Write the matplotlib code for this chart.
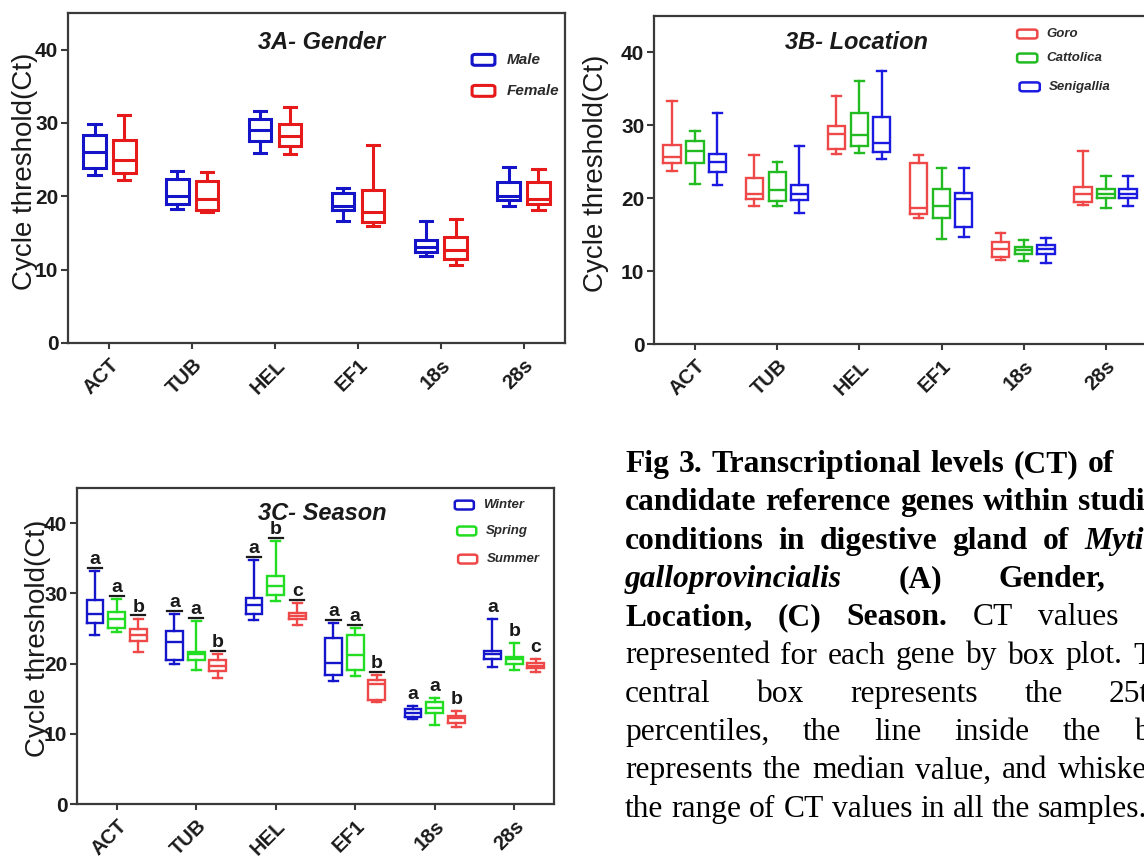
import matplotlib.pyplot as plt
from matplotlib.patches import FancyBboxPatch
from matplotlib.transforms import ScaledTranslation

plt.rcParams['font.family'] = 'Liberation Sans'

genes = ['ACT', 'TUB', 'HEL', 'EF1', '18s', '28s']

# Ct summaries per gene: (min, q1, median, q3, max)
male = [(22.9, 23.9, 26.0, 28.3, 29.9), (18.3, 19.0, 20.0, 22.3, 23.4),
        (25.9, 27.6, 29.0, 30.5, 31.7), (16.6, 18.2, 18.7, 20.5, 21.1),
        (11.8, 12.4, 13.1, 14.1, 16.6), (18.7, 19.5, 20.0, 22.0, 24.0)]
female = [(22.2, 23.2, 25.0, 27.7, 31.1), (17.9, 18.2, 19.7, 22.1, 23.3),
          (25.8, 26.8, 28.2, 29.9, 32.2), (15.9, 16.5, 17.9, 20.9, 27.0),
          (10.7, 11.5, 12.7, 14.4, 16.9), (18.1, 19.0, 19.7, 22.0, 23.7)]

goro = [(23.7, 24.9, 25.7, 27.3, 33.3), (18.9, 19.9, 20.6, 22.8, 25.9),
        (26.0, 26.7, 28.8, 29.9, 34.0), (17.3, 17.9, 18.7, 24.9, 25.9),
        (11.5, 12.0, 13.1, 14.0, 15.2), (19.1, 19.5, 20.6, 21.5, 26.5)]
cattolica = [(22.0, 24.8, 26.5, 27.9, 29.2), (19.0, 19.6, 21.1, 23.6, 25.0),
             (26.2, 27.2, 28.7, 31.7, 36.1), (14.4, 17.3, 18.9, 21.2, 24.2),
             (11.4, 12.3, 12.9, 13.3, 14.3), (18.7, 20.0, 20.6, 21.3, 23.1)]
senigallia = [(21.8, 23.6, 25.0, 26.1, 31.7), (18.0, 19.7, 20.6, 21.8, 27.1),
              (25.4, 26.3, 27.6, 31.1, 37.4), (14.7, 16.1, 19.9, 20.7, 24.1),
              (11.1, 12.4, 13.1, 13.6, 14.5), (18.9, 20.0, 20.6, 21.2, 23.1)]

winter = [(24.1, 25.8, 27.1, 29.0, 33.2), (20.0, 20.5, 23.1, 24.6, 27.1),
          (26.2, 27.0, 28.4, 29.4, 34.7), (17.5, 18.3, 20.1, 23.7, 25.8),
          (12.1, 12.4, 13.0, 13.5, 14.0), (19.5, 20.7, 21.4, 21.8, 26.4)]
spring = [(24.5, 25.1, 26.4, 27.4, 29.2), (19.1, 20.5, 21.3, 21.7, 26.1),
          (28.9, 29.7, 31.0, 32.4, 37.5), (18.2, 19.1, 21.2, 24.1, 25.1),
          (11.3, 13.0, 13.6, 14.5, 15.1), (19.1, 19.9, 20.6, 21.0, 22.9)]
summer = [(21.7, 23.2, 24.0, 24.9, 26.4), (17.9, 19.0, 19.6, 20.5, 21.3),
          (25.5, 26.3, 26.8, 27.2, 28.6), (14.5, 14.8, 17.1, 17.6, 18.4),
          (11.0, 11.6, 12.2, 12.6, 13.3), (18.8, 19.3, 19.7, 20.1, 20.6)]

# significance groups (season)
winter_sig = ['a', 'a', 'a', 'a', 'a', 'a']
spring_sig = ['a', 'a', 'b', 'a', 'a', 'b']
summer_sig = ['b', 'b', 'c', 'b', 'b', 'c']

W, H = 1144, 858
fig = plt.figure(figsize=(W / 100, H / 100), dpi=100)
ink = '#1a1a1a'


def px_axes(left, top, right, bottom):
    return fig.add_axes([left / W, 1 - bottom / H, (right - left) / W, (bottom - top) / H])


def draw_boxes(ax, groups, colors, offsets, width, lw):
    for vals, col, off in zip(groups, colors, offsets):
        stats = [dict(whislo=v[0], q1=v[1], med=v[2], q3=v[3], whishi=v[4]) for v in vals]
        pos = [i + off for i in range(len(genes))]
        st = dict(color=col, linewidth=lw, solid_joinstyle='miter')
        ax.bxp(stats, positions=pos, widths=width, capwidths=width * 0.55,
               showfliers=False, manage_ticks=False,
               boxprops=st, whiskerprops=st, capprops=st, medianprops=st)


def style_axes(ax, title, tx, ty, ylab_x, ylab_y):
    ax.set_xlim(-0.5, 5.5)
    ax.set_ylim(0, 45)
    ax.set_yticks([0, 10, 20, 30, 40])
    ax.set_xticks(range(len(genes)))
    ax.set_xticklabels(genes, rotation=45, ha='right', va='top', rotation_mode='anchor',
                       fontsize=14.5, fontweight='bold', color=ink)
    shift = ScaledTranslation(-0.15, 0, fig.dpi_scale_trans)
    for lab in ax.get_xticklabels():
        lab.set_transform(lab.get_transform() + shift)
    for lab in ax.get_yticklabels():
        lab.set_fontweight('bold')
        lab.set_fontsize(15)
        lab.set_color(ink)
    ax.tick_params(axis='y', direction='out', length=5, width=1.5, pad=2, color='#3a3a3a')
    ax.tick_params(axis='x', direction='out', length=4, width=1.5, pad=5, color='#3a3a3a')
    for sp in ax.spines.values():
        sp.set_linewidth(1.6)
        sp.set_color('#3a3a3a')
    ax.text(tx, ty, title, transform=ax.transAxes, ha='center', va='center',
            fontsize=17, fontweight='bold', fontstyle='italic', color=ink)
    ax.text(ylab_x, ylab_y, 'Cycle threshold(Ct)', transform=ax.transAxes, rotation=90,
            ha='center', va='center', fontsize=20, color=ink)


def add_key(ax, labels, colors, xbox, xtext, ys, w, h, size, lw):
    for lab, col, xb, xt, y in zip(labels, colors, xbox, xtext, ys):
        ax.add_patch(FancyBboxPatch((xb - w / 2, y - h / 2), w, h,
                                    boxstyle='round,pad=0,rounding_size=0.006',
                                    transform=ax.transAxes, fill=False, ec=col, lw=lw,
                                    clip_on=False))
        ax.text(xt, y, lab, transform=ax.transAxes, va='center', ha='left', fontsize=size,
                fontweight='bold', fontstyle='italic', color='#2a2a2a')


# 3A - gender
axA = px_axes(68, 13, 565, 343)
draw_boxes(axA, [male, female], ['#1414c8', '#e61a1a'], [-0.18, 0.18], 0.27, 2.2)
style_axes(axA, '3A- Gender', 0.511, 0.912, -0.087, 0.52)
add_key(axA, ['Male', 'Female'], ['#1414c8', '#e61a1a'], [0.836, 0.836], [0.883, 0.883],
        [0.858, 0.764], 0.046, 0.033, 11, 2.2)

# 3B - location
axB = px_axes(654, 16, 1147, 344)
loc_colors = ['#ee4848', '#22bb22', '#1a1ae0']
draw_boxes(axB, [goro, cattolica, senigallia], loc_colors, [-0.28, 0.0, 0.27], 0.21, 1.7)
style_axes(axB, '3B- Location', 0.41, 0.92, -0.118, 0.52)
add_key(axB, ['Goro', 'Cattolica', 'Senigallia'], loc_colors, [0.757, 0.757, 0.762],
        [0.795, 0.795, 0.801], [0.945, 0.872, 0.784], 0.041, 0.027, 9.5, 1.8)

# 3C - season
axC = px_axes(77, 488, 554, 804)
season_colors = ['#1515cc', '#22dd22', '#ee4848']
season_offsets = [-0.275, 0.0, 0.27]
draw_boxes(axC, [winter, spring, summer], season_colors, season_offsets, 0.21, 1.7)
style_axes(axC, '3C- Season', 0.514, 0.92, -0.082, 0.525)
add_key(axC, ['Winter', 'Spring', 'Summer'], season_colors, [0.812, 0.817, 0.819],
        [0.851, 0.857, 0.86], [0.946, 0.864, 0.775], 0.04, 0.028, 9.5, 1.8)

for vals, sig, off in zip([winter, spring, summer], [winter_sig, spring_sig, summer_sig],
                          season_offsets):
    for i, (v, s) in enumerate(zip(vals, sig)):
        x = i + off
        axC.text(x, v[4] + 1.0, s, ha='center', va='baseline', fontsize=14,
                 fontweight='bold', color=ink)
        if i < 4:
            axC.plot([x - 0.09, x + 0.09], [v[4] + 0.45] * 2, color=ink, lw=1.6)

# caption block, justified line by line
caption = [
    ([('Fig', 'b'), ('3.', 'b'), ('Transcriptional', 'b'), ('levels', 'b'), ('(CT)', 'b'),
      ('of', 'b')], 1114),
    ([('candidate', 'b'), ('reference', 'b'), ('genes', 'b'), ('within', 'b'),
      ('studied', 'b')], 1176),
    ([('conditions', 'b'), ('in', 'b'), ('digestive', 'b'), ('gland', 'b'), ('of', 'b'),
      ('Mytilus', 'bi')], 1182),
    ([('galloprovincialis', 'bi'), ('(A)', 'b'), ('Gender,', 'b'), ('(B)', 'b')], 1204),
    ([('Location,', 'b'), ('(C)', 'b'), ('Season.', 'b'), ('CT', 'r'), ('values', 'r'),
      ('are', 'r')], 1182),
    ([('represented', 'r'), ('for', 'r'), ('each', 'r'), ('gene', 'r'), ('by', 'r'),
      ('box', 'r'), ('plot.', 'r'), ('The', 'r')], 1182),
    ([('central', 'r'), ('box', 'r'), ('represents', 'r'), ('the', 'r'), ('25th', 'r')], 1165),
    ([('percentiles,', 'r'), ('the', 'r'), ('line', 'r'), ('inside', 'r'), ('the', 'r'),
      ('box', 'r')], 1182),
    ([('represents', 'r'), ('the', 'r'), ('median', 'r'), ('value,', 'r'), ('and', 'r'),
      ('whiskers', 'r')], 1170),
    ([('the', 'r'), ('range', 'r'), ('of', 'r'), ('CT', 'r'), ('values', 'r'), ('in', 'r'),
      ('all', 'r'), ('the', 'r'), ('samples.', 'r')], None),
]
faces = {'b': ('bold', 'normal'), 'bi': ('bold', 'italic'), 'r': ('normal', 'normal')}
renderer = fig.canvas.get_renderer()
x0, base0, step = 625, 472, 38.3
for row, (words, right) in enumerate(caption):
    y = 1 - (base0 + row * step) / H
    arts = []
    for txt, face in words:
        wt, st = faces[face]
        arts.append(fig.text(0, y, txt, family='Liberation Serif', fontsize=22.7,
                             fontweight=wt, fontstyle=st, va='baseline', ha='left',
                             color='black'))
    widths = [a.get_window_extent(renderer).width for a in arts]
    gap = 7.9 if right is None else (right - x0 - sum(widths)) / (len(arts) - 1)
    x = x0
    for a, w in zip(arts, widths):
        a.set_x(x / W)
        x += w + gap

fig.savefig('out.png', dpi=100)
